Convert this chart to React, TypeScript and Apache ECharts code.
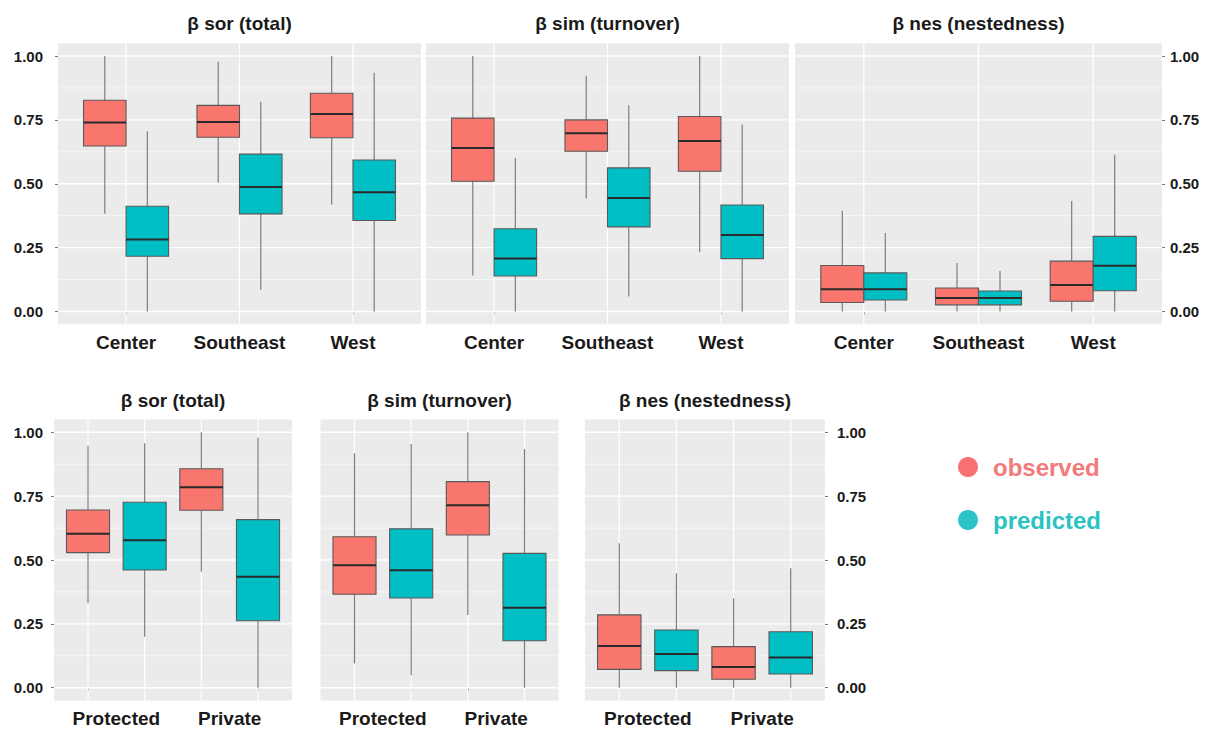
import React, { useEffect, useRef } from "react";
import * as echarts from "echarts";

// Category labels
const regions = ["Center", "Southeast", "West"];
const landUses = ["Protected", "Private"];
const panelTitles = ["β sor (total)", "β sim (turnover)", "β nes (nestedness)"];
const groupNames = ["observed", "predicted"];
const yTicks = [0, 0.25, 0.5, 0.75, 1];
const yMinorTicks = [0.125, 0.375, 0.625, 0.875];

// Box statistics per group: [min, Q1, median, Q3, max]
// Regions (top row)
const sorRegionObserved = [
  [0.383, 0.648, 0.74, 0.827, 1.0],
  [0.505, 0.682, 0.742, 0.807, 0.978],
  [0.418, 0.68, 0.773, 0.854, 1.0],
];
const sorRegionPredicted = [
  [0.0, 0.216, 0.282, 0.412, 0.706],
  [0.085, 0.382, 0.487, 0.616, 0.821],
  [0.0, 0.356, 0.467, 0.593, 0.935],
];
const simRegionObserved = [
  [0.141, 0.51, 0.64, 0.757, 1.0],
  [0.442, 0.627, 0.698, 0.75, 0.923],
  [0.233, 0.549, 0.667, 0.763, 1.0],
];
const simRegionPredicted = [
  [0.0, 0.139, 0.207, 0.324, 0.601],
  [0.059, 0.331, 0.444, 0.562, 0.807],
  [0.0, 0.207, 0.299, 0.417, 0.732],
];
const nesRegionObserved = [
  [0.0, 0.035, 0.087, 0.18, 0.394],
  [0.0, 0.026, 0.053, 0.092, 0.19],
  [0.0, 0.04, 0.104, 0.197, 0.432],
];
const nesRegionPredicted = [
  [0.0, 0.045, 0.087, 0.151, 0.307],
  [0.0, 0.026, 0.053, 0.08, 0.158],
  [0.0, 0.081, 0.179, 0.294, 0.614],
];

// Land use (bottom row)
const sorLandObserved = [
  [0.331, 0.529, 0.603, 0.696, 0.947],
  [0.454, 0.695, 0.785, 0.857, 1.0],
];
const sorLandPredicted = [
  [0.2, 0.461, 0.577, 0.726, 0.957],
  [0.0, 0.262, 0.434, 0.658, 0.979],
];
const simLandObserved = [
  [0.095, 0.366, 0.479, 0.591, 0.918],
  [0.285, 0.598, 0.714, 0.807, 1.0],
];
const simLandPredicted = [
  [0.049, 0.351, 0.46, 0.622, 0.954],
  [0.0, 0.184, 0.313, 0.526, 0.934],
];
const nesLandObserved = [
  [0.0, 0.072, 0.163, 0.285, 0.566],
  [0.0, 0.033, 0.081, 0.161, 0.35],
];
const nesLandPredicted = [
  [0.0, 0.067, 0.132, 0.226, 0.448],
  [0.0, 0.054, 0.118, 0.219, 0.468],
];

const COLORS = ["#F8766D", "#00BFC4"];
const LEGEND_TEXT = ["#F27A7A", "#2BC2C2"];
const FONT = "'Liberation Sans', Arial, sans-serif";

type Panel = {
  grid: { left: number; top: number; width: number; height: number };
  cats: string[];
  obs: number[][];
  pred: number[][];
  title: string;
  yLabel: "left" | "right" | "none";
  labelMargin: number;
  row: "top" | "bottom";
};

const TOP_Y = 43.25;
const BOT_Y = 419.5;
const H = 281;

const panels: Panel[] = [
  { grid: { left: 58, top: TOP_Y, width: 363, height: H }, cats: regions, obs: sorRegionObserved, pred: sorRegionPredicted, title: panelTitles[0], yLabel: "left", labelMargin: 15, row: "top" },
  { grid: { left: 426, top: TOP_Y, width: 363, height: H }, cats: regions, obs: simRegionObserved, pred: simRegionPredicted, title: panelTitles[1], yLabel: "none", labelMargin: 0, row: "top" },
  { grid: { left: 795, top: TOP_Y, width: 367, height: H }, cats: regions, obs: nesRegionObserved, pred: nesRegionPredicted, title: panelTitles[2], yLabel: "right", labelMargin: 8, row: "top" },
  { grid: { left: 54, top: BOT_Y, width: 238, height: H }, cats: landUses, obs: sorLandObserved, pred: sorLandPredicted, title: panelTitles[0], yLabel: "left", labelMargin: 11, row: "bottom" },
  { grid: { left: 320.5, top: BOT_Y, width: 238, height: H }, cats: landUses, obs: simLandObserved, pred: simLandPredicted, title: panelTitles[1], yLabel: "none", labelMargin: 0, row: "bottom" },
  { grid: { left: 585, top: BOT_Y, width: 240, height: H }, cats: landUses, obs: nesLandObserved, pred: nesLandPredicted, title: panelTitles[2], yLabel: "right", labelMargin: 12, row: "bottom" },
];

function boxRenderer(halfWidth: number, color: string) {
  return (params: any, api: any) => {
    const x = api.value(0);
    const pMin = api.coord([x, api.value(1)]);
    const pQ1 = api.coord([x, api.value(2)]);
    const pMed = api.coord([x, api.value(3)]);
    const pQ3 = api.coord([x, api.value(4)]);
    const pMax = api.coord([x, api.value(5)]);
    const left = api.coord([x - halfWidth, 0])[0];
    const right = api.coord([x + halfWidth, 0])[0];
    const whisker = { stroke: "#7d7d7d", lineWidth: 1.2 };
    return {
      type: "group",
      children: [
        { type: "line", shape: { x1: pMin[0], y1: pMin[1], x2: pQ1[0], y2: pQ1[1] }, style: whisker },
        { type: "line", shape: { x1: pQ3[0], y1: pQ3[1], x2: pMax[0], y2: pMax[1] }, style: whisker },
        {
          type: "rect",
          shape: { x: left, y: pQ3[1], width: right - left, height: pQ1[1] - pQ3[1] },
          style: { fill: color, stroke: "#5a5a5a", lineWidth: 1.1 },
        },
        {
          type: "line",
          shape: { x1: left, y1: pMed[1], x2: right, y2: pMed[1] },
          style: { stroke: "#2a2a2a", lineWidth: 2 },
        },
      ],
    };
  };
}

function gridLineRenderer(params: any, api: any) {
  const kind = api.value(0);
  const v = api.value(1);
  const cs = params.coordSys;
  if (kind === 2) {
    const px = api.coord([v, 0])[0];
    return {
      type: "line",
      shape: { x1: px, y1: cs.y, x2: px, y2: cs.y + cs.height },
      style: { stroke: "#ffffff", lineWidth: 1.2 },
    };
  }
  const py = api.coord([1, v])[1];
  return {
    type: "line",
    shape: { x1: cs.x, y1: py, x2: cs.x + cs.width, y2: py },
    style: { stroke: "#ffffff", lineWidth: kind === 0 ? 1.3 : 0.6 },
  };
}

function buildOption() {
  const grids: any[] = [];
  const xAxes: any[] = [];
  const yAxes: any[] = [];
  const series: any[] = [];
  const titles: any[] = [];

  panels.forEach((p, k) => {
    const top = p.row === "top";
    // top: one position per category; bottom: one position per box
    const positions = top
      ? p.cats.map((_, i) => i + 1)
      : p.cats.flatMap((_, i) => [2 * i + 1, 2 * i + 2]);
    const labelValues = top ? p.cats.map((_, i) => i + 1) : p.cats.map((_, i) => 2 * i + 1.5);
    const maxPos = positions[positions.length - 1];

    grids.push({
      ...p.grid,
      show: true,
      backgroundColor: "#EBEBEB",
      borderWidth: 0,
      containLabel: false,
    });

    xAxes.push({
      type: "value",
      gridIndex: k,
      min: 0.4,
      max: maxPos + 0.6,
      axisLine: { show: false },
      splitLine: { show: false },
      axisTick: {
        show: true,
        customValues: positions,
        length: 3,
        lineStyle: { color: "#666666", width: 1 },
      },
      axisLabel: {
        show: true,
        customValues: labelValues,
        margin: top ? 9 : 8,
        formatter: (v: number) => {
          const idx = top ? Math.round(v) - 1 : Math.round((v - 1.5) / 2);
          return p.cats[idx] ?? "";
        },
        color: "#1a1a1a",
        fontFamily: FONT,
        fontWeight: "bold",
        fontSize: 19,
      },
    });

    yAxes.push({
      type: "value",
      gridIndex: k,
      min: -0.05,
      max: 1.05,
      position: p.yLabel === "right" ? "right" : "left",
      axisLine: { show: false },
      splitLine: { show: false },
      axisTick: {
        show: p.yLabel !== "none",
        customValues: yTicks,
        length: 3,
        lineStyle: { color: "#777777", width: 1 },
      },
      axisLabel: {
        show: p.yLabel !== "none",
        customValues: yTicks,
        margin: p.labelMargin,
        formatter: (v: number) => v.toFixed(2),
        color: "#1a1a1a",
        fontFamily: FONT,
        fontWeight: "bold",
        fontSize: 15,
      },
    });

    // panel grid lines
    const gridData = [
      ...yTicks.map((v) => [0, v]),
      ...yMinorTicks.map((v) => [1, v]),
      ...positions.map((v) => [2, v]),
    ];
    series.push({
      type: "custom",
      name: "gridlines",
      xAxisIndex: k,
      yAxisIndex: k,
      silent: true,
      z: 1,
      encode: { x: 0, y: 1 },
      renderItem: gridLineRenderer,
      data: gridData,
    });

    const halfWidth = top ? 0.1875 : 0.38;
    [p.obs, p.pred].forEach((stats, g) => {
      const data = stats.map((s, i) => {
        const x = top ? i + 1 + (g === 0 ? -halfWidth : halfWidth) : 2 * i + 1 + g;
        return [x, ...s];
      });
      series.push({
        type: "custom",
        name: groupNames[g],
        xAxisIndex: k,
        yAxisIndex: k,
        z: 3,
        itemStyle: { color: COLORS[g] },
        encode: { x: 0, y: [1, 2, 3, 4, 5] },
        renderItem: boxRenderer(halfWidth, COLORS[g]),
        data,
      });
    });

    titles.push({
      text: p.title,
      left: p.grid.left + p.grid.width / 2,
      top: top ? 23 : 400,
      textAlign: "center",
      textVerticalAlign: "middle",
      padding: 0,
      textStyle: {
        color: "#1a1a1a",
        fontFamily: FONT,
        fontWeight: "bold",
        fontSize: 19,
      },
    });
  });

  return {
    animation: false,
    backgroundColor: "#ffffff",
    title: titles,
    grid: grids,
    xAxis: xAxes,
    yAxis: yAxes,
    legend: {
      data: groupNames.map((name, i) => ({
        name,
        icon: "circle",
        itemStyle: { color: COLORS[i] === "#F8766D" ? "#F87171" : "#2BC4C8" },
        textStyle: { color: LEGEND_TEXT[i] },
      })),
      orient: "vertical",
      left: 958,
      top: 455,
      itemWidth: 20,
      itemHeight: 20,
      itemGap: 29,
      padding: 0,
      selectedMode: false,
      textStyle: {
        fontFamily: FONT,
        fontWeight: "bold",
        fontSize: 24,
        padding: [0, 0, 0, 10],
      },
    },
    series,
  };
}

export default function App() {
  const ref = useRef<HTMLDivElement>(null);
  useEffect(() => {
    if (!ref.current) return;
    const chart = echarts.init(ref.current, undefined, { renderer: "svg" });
    chart.setOption(buildOption() as any);
    return () => chart.dispose();
  }, []);
  return (
    <div
      ref={ref}
      style={{ position: "fixed", left: 0, top: 0, width: 1211, height: 729, background: "#fff" }}
    />
  );
}
